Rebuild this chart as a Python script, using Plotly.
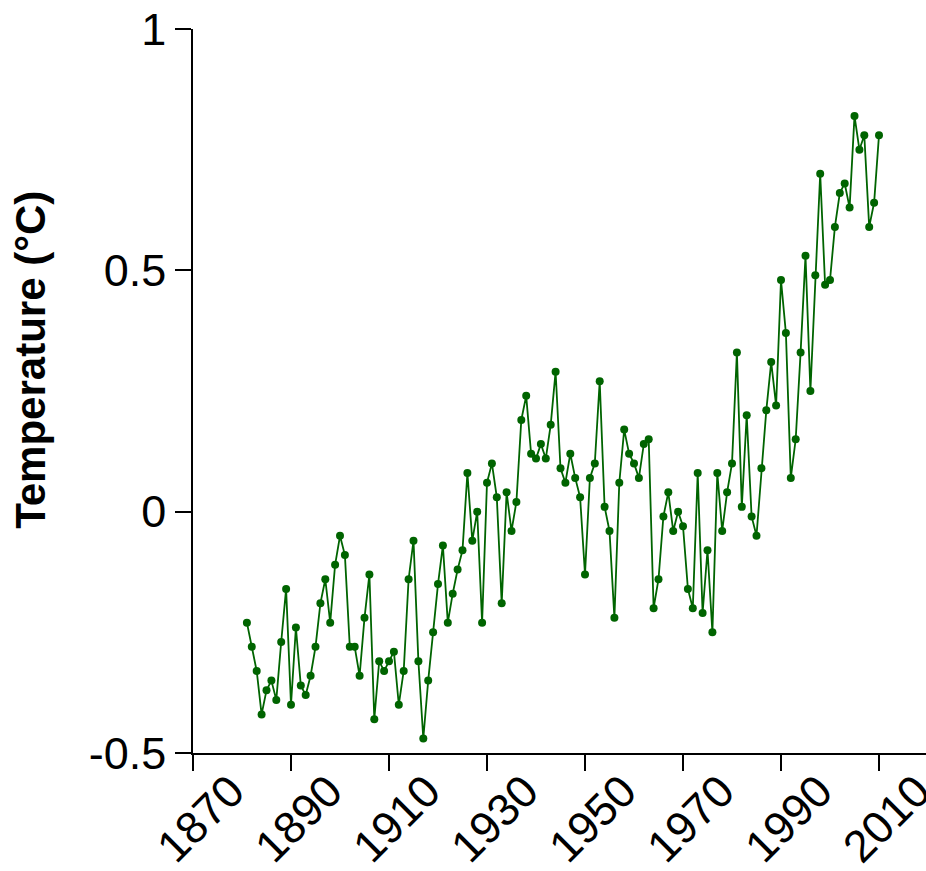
import plotly.graph_objects as go

years = list(range(1881, 2011))
temps = [
    -0.23, -0.28, -0.33, -0.42, -0.37, -0.35, -0.39, -0.27, -0.16, -0.40,  # 1881-1890
    -0.24, -0.36, -0.38, -0.34, -0.28, -0.19, -0.14, -0.23, -0.11, -0.05,  # 1891-1900
    -0.09, -0.28, -0.28, -0.34, -0.22, -0.13, -0.43, -0.31, -0.33, -0.31,  # 1901-1910
    -0.29, -0.40, -0.33, -0.14, -0.06, -0.31, -0.47, -0.35, -0.25, -0.15,  # 1911-1920
    -0.07, -0.23, -0.17, -0.12, -0.08, 0.08, -0.06, 0.00, -0.23, 0.06,     # 1921-1930
    0.10, 0.03, -0.19, 0.04, -0.04, 0.02, 0.19, 0.24, 0.12, 0.11,          # 1931-1940
    0.14, 0.11, 0.18, 0.29, 0.09, 0.06, 0.12, 0.07, 0.03, -0.13,           # 1941-1950
    0.07, 0.10, 0.27, 0.01, -0.04, -0.22, 0.06, 0.17, 0.12, 0.10,          # 1951-1960
    0.07, 0.14, 0.15, -0.20, -0.14, -0.01, 0.04, -0.04, 0.00, -0.03,       # 1961-1970
    -0.16, -0.20, 0.08, -0.21, -0.08, -0.25, 0.08, -0.04, 0.04, 0.10,      # 1971-1980
    0.33, 0.01, 0.20, -0.01, -0.05, 0.09, 0.21, 0.31, 0.22, 0.48,          # 1981-1990
    0.37, 0.07, 0.15, 0.33, 0.53, 0.25, 0.49, 0.70, 0.47, 0.48,            # 1991-2000
    0.59, 0.66, 0.68, 0.63, 0.82, 0.75, 0.78, 0.59, 0.64, 0.78,            # 2001-2010
]

x_ticks = [1870, 1890, 1910, 1930, 1950, 1970, 1990, 2010]
x_tick_labels = [str(v) for v in x_ticks]
y_ticks = [-0.5, 0, 0.5, 1]
y_tick_labels = ["-0.5", "0", "0.5", "1"]
y_title = "Temperature (°C)"

GREEN = "#006400"
FONT = "Liberation Sans, Arial, sans-serif"

W, H = 926, 871
L, R, T, B = 193, 0, 29, 117.5
plot_w = W - L - R
plot_h = H - T - B
px_per_year = 4.9

fig = go.Figure()
fig.add_trace(go.Scatter(
    x=years, y=temps, mode="lines+markers",
    line=dict(color=GREEN, width=1.8),
    marker=dict(color=GREEN, size=8),
    showlegend=False, cliponaxis=False,
))

fig.update_layout(
    width=W, height=H,
    margin=dict(l=L, r=R, t=T, b=B, pad=0, autoexpand=False),
    paper_bgcolor="white", plot_bgcolor="white",
    font=dict(family=FONT, color="black", size=45),
    xaxis=dict(
        range=[1870, 1870 + plot_w / px_per_year],
        tickvals=x_ticks, ticktext=x_tick_labels,
        tickangle=-45, ticks="outside", ticklen=16, tickwidth=1.5, tickcolor="black",
        showline=True, linecolor="black", linewidth=1.5,
        showgrid=False, zeroline=False, automargin=False,
        ticklabeloverflow="allow",
        tickfont=dict(size=45, family=FONT, color="black"),
        ticklabelshift=38, ticklabelstandoff=-24,
    ),
    yaxis=dict(
        range=[-0.5, 1.0],
        tickvals=y_ticks, ticktext=y_tick_labels,
        ticks="outside", ticklen=16, tickwidth=1.5, tickcolor="black",
        showline=True, linecolor="black", linewidth=1.5,
        showgrid=False, zeroline=False, automargin=False,
        ticklabeloverflow="allow",
        tickfont=dict(size=45, family=FONT, color="black"),
    ),
    annotations=[dict(
        text="<b>" + y_title + "</b>",
        xref="paper", yref="paper",
        x=(31 - L) / plot_w, y=(H - B - 360) / plot_h,
        xanchor="center", yanchor="middle",
        textangle=-90, showarrow=False,
        font=dict(size=42, family=FONT, color="black"),
    )],
)

fig.write_html(
    "out.html",
    config={"displayModeBar": False},
    post_script="document.body.style.margin='0px';document.body.style.overflow='hidden';",
)
